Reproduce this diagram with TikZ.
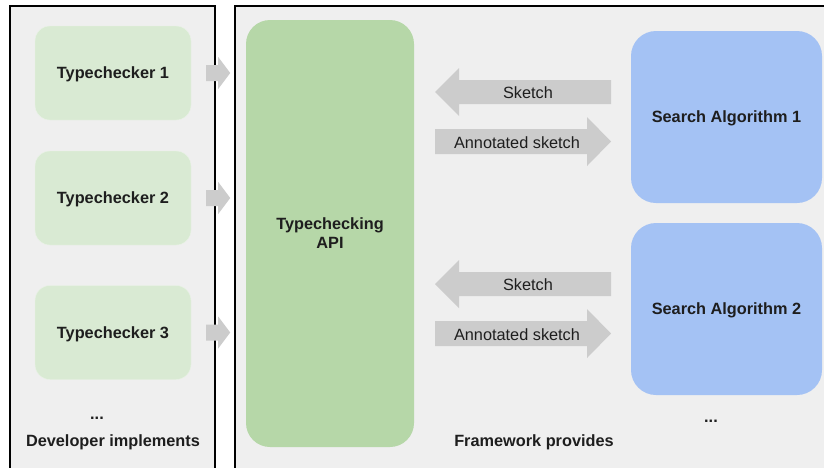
\documentclass[tikz,border=0pt]{standalone}
\usepackage{fontspec}
\setmainfont{Liberation Sans}
\usetikzlibrary{positioning, calc}

\definecolor{panelgray}{HTML}{EFEFEF}
\definecolor{checkgreen}{HTML}{D9EAD3}
\definecolor{apigreen}{HTML}{B6D7A8}
\definecolor{searchblue}{HTML}{A4C2F4}
\definecolor{fatgray}{HTML}{CCCCCC}
\definecolor{textdark}{HTML}{1E1E1E}

\begin{document}
\begin{tikzpicture}[
  x=1pt, y=-1pt,
  panel/.style={draw=black, line width=2pt, fill=panelgray},
  checker/.style={rectangle, rounded corners=15pt, fill=checkgreen,
                  draw=white!45!checkgreen, minimum width=156pt, minimum height=94pt,
                  text depth=0pt,
                  font=\bfseries\fontsize{16.3}{19}\selectfont, text=textdark},
  api/.style={rectangle, rounded corners=24pt, fill=apigreen, minimum width=168pt,
              minimum height=427pt, align=center, text depth=0pt,
              font=\bfseries\fontsize{16.3}{19}\selectfont, text=textdark},
  search/.style={rectangle, rounded corners=25pt, fill=searchblue, minimum width=191pt,
                 minimum height=172pt, text depth=0pt,
                 font=\bfseries\fontsize{16.3}{19}\selectfont, text=textdark},
  msg/.style={font=\fontsize{16.3}{19}\selectfont, text=textdark, inner sep=0pt},
  caption/.style={font=\bfseries\fontsize{16.3}{19}\selectfont, text=textdark, inner sep=0pt}
]
\useasboundingbox (0,0) rectangle (824,467);
\clip (0,0) rectangle (824,467);
\fill[white] (0,0) rectangle (824,467);

% Panels
\draw[panel] (10,6) rectangle (215,490);
\draw[panel] (235,6) rectangle (850,490);

% Developer side
\node[checker] (tc1) at (113,73) {Typechecker 1};
\node[checker] (tc2) at (113,198) {Typechecker 2};
\node[checker] (tc3) at (113,332.5) {Typechecker 3};
\node[caption] (dots1) at (97,418) {...};
\node[caption] (dev) at (113,442.5) {Developer implements};

% Framework side
\node[api] (api) at (330,233.5) {Typechecking\\API};
\node[search] (sa1) at (726.5,117) {Search Algorithm 1};
\node[search] (sa2) at (726.5,309) {Search Algorithm 2};
\node[caption] (dots2) at (711,421) {...};
\node[caption] (fw) at (534,442.5) {Framework provides};

% Typechecker -> API
\foreach \t in {tc1,tc2,tc3}
  \fill[fatgray] ([xshift=15pt,yshift=8pt]\t.east) -- ++(12,0) -- ++(0,-8)
    -- ++(12,16) -- ++(-12,16) -- ++(0,-8) -- ++(-12,0) -- cycle;

% Sketch / annotated sketch exchanges
\foreach \yy/\nm in {92/1, 284/2} {
  \fill[fatgray] (435,\yy) -- (459,\yy-24) -- (459,\yy-12) -- (611,\yy-12)
    -- (611,\yy+12) -- (459,\yy+12) -- (459,\yy+24) -- cycle;
  \fill[fatgray] (611,\yy+49.5) -- (587,\yy+25) -- (587,\yy+37) -- (435,\yy+37)
    -- (435,\yy+62) -- (587,\yy+62) -- (587,\yy+74) -- cycle;
  \node[msg] (sk\nm) at (528,\yy+1) {Sketch};
  \node[msg] (ann\nm) at (517,\yy+50.5) {Annotated sketch};
}
\end{tikzpicture}
\end{document}
